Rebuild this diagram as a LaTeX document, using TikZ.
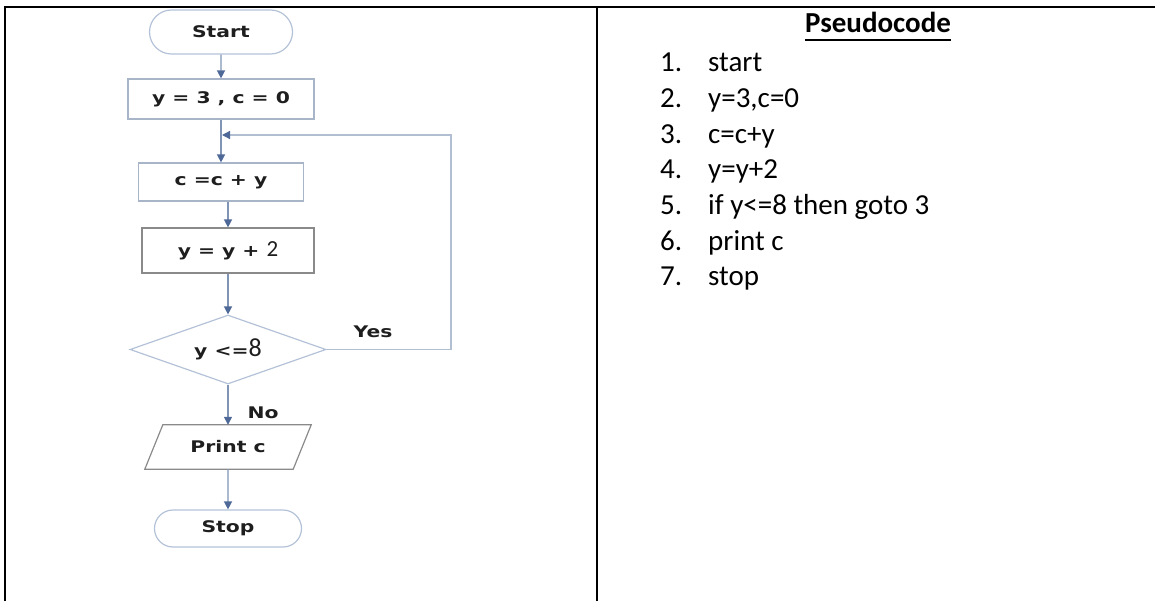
\documentclass[tikz,border=0pt]{standalone}
\usepackage{fontspec}
\setmainfont{Carlito}
\newfontfamily\flowfont{DejaVu Sans}[FakeStretch=1.27]
\newfontfamily\carl{Carlito}
\usetikzlibrary{shapes.geometric,shapes.misc,arrows.meta}
\definecolor{pill}{HTML}{B4C2D8}
\definecolor{boxline}{HTML}{A8B4C8}
\definecolor{grayline}{HTML}{8A8A8A}
\definecolor{connblue}{HTML}{8095B6}
\definecolor{loopblue}{HTML}{B2BFD3}
\definecolor{tipblue}{HTML}{4E6897}
\definecolor{ink}{HTML}{1E1E1E}
\begin{document}
\begin{tikzpicture}[x=1pt,y=-1pt,
  flowtext/.style={font=\flowfont\bfseries\fontsize{16}{19}\selectfont, text=ink},
  pillbox/.style={rounded rectangle, draw=pill, line width=1.2pt, flowtext, inner sep=0pt},
  procbox/.style={rectangle, draw=boxline, line width=1.2pt, flowtext, inner sep=0pt},
  conn/.style={draw=connblue, line width=1.4pt, -{Triangle[length=8pt,width=8pt,color=tipblue]}},
  loopconn/.style={draw=loopblue, line width=1.4pt, -{Triangle[length=8pt,width=8pt,color=tipblue]}},
  pstext/.style={font=\fontsize{29}{35}\selectfont, anchor=base west, inner sep=0pt, text=black},
  border/.style={draw=black, line width=2.2pt}]
\useasboundingbox (0,0) rectangle (1155,601);

% table lines
\draw[border] (5,601) -- (5,7) -- (1155,7);
\draw[border] (597,7) -- (597,601);

% flowchart
\node[pillbox, minimum width=143pt, minimum height=44pt] (start) at (221,32) {Start};
\node[procbox, minimum width=186pt, minimum height=40pt] (init) at (221,99) {y = 3 , c = 0};
\node[procbox, minimum width=165pt, minimum height=38pt] (add) at (221,182) {c =c + y};
\node[procbox, draw=grayline, minimum width=172pt, minimum height=45pt] (inc) at (228,250.5) {y = y + {\carl\mdseries\fontsize{23}{23}\selectfont 2}};
\node[diamond, draw=pill, line width=1.2pt, aspect=2.84, minimum width=196pt, minimum height=69pt, inner sep=0pt, flowtext] (test) at (228,349.5) {y <={\carl\mdseries\fontsize{26}{26}\selectfont 8}};
\node[flowtext, minimum width=148pt, minimum height=44pt, inner sep=0pt] (out) at (228,447) {Print c};
\draw[draw=grayline, line width=1.2pt] ([xshift=9pt]out.north west) -- ([xshift=9pt]out.north east) -- ([xshift=-9pt]out.south east) -- ([xshift=-9pt]out.south west) -- cycle;
\node[pillbox, minimum width=147pt, minimum height=37pt] (stop) at (228,528.5) {Stop};

\node[flowtext] (yeslab) at (373,332) {Yes};
\node[flowtext] (nolab) at (263,413) {No};

\coordinate (loopc) at (451,135);

\draw[conn] (start) -- (init);
\draw[conn] (init) -- (add);
\draw[conn] (inc.north |- add.south) -- (inc.north);
\draw[conn] (inc) -- (test);
\draw[conn] (test) -- (out);
\draw[conn] (out) -- (stop);
\draw[loopconn] (test.east) -| (loopc) -- ([xshift=1pt]init.south |- loopc);

% pseudocode
\node[font=\bfseries\fontsize{29}{35}\selectfont, anchor=base, inner sep=0pt] (head) at (878,33) {Pseudocode};
\draw[line width=2pt] ([yshift=-7pt]head.base west) -- ([yshift=-7pt]head.base east);

\node[pstext] (n1) at (660,72) {1.};
\node[pstext] (t1) at (708,72) {start};
\node[pstext] (n2) at (660,107.7) {2.};
\node[pstext] (t2) at (708,107.7) {y=3,c=0};
\node[pstext] (n3) at (660,143.4) {3.};
\node[pstext] (t3) at (708,143.4) {c=c+y};
\node[pstext] (n4) at (660,179) {4.};
\node[pstext] (t4) at (708,179) {y=y+2};
\node[pstext] (n5) at (660,214.8) {5.};
\node[pstext] (t5) at (708,214.8) {if y<=8 then goto 3};
\node[pstext] (n6) at (660,250.5) {6.};
\node[pstext] (t6) at (708,250.5) {print c};
\node[pstext] (n7) at (660,286) {7.};
\node[pstext] (t7) at (708,286) {stop};
\end{tikzpicture}
\end{document}
